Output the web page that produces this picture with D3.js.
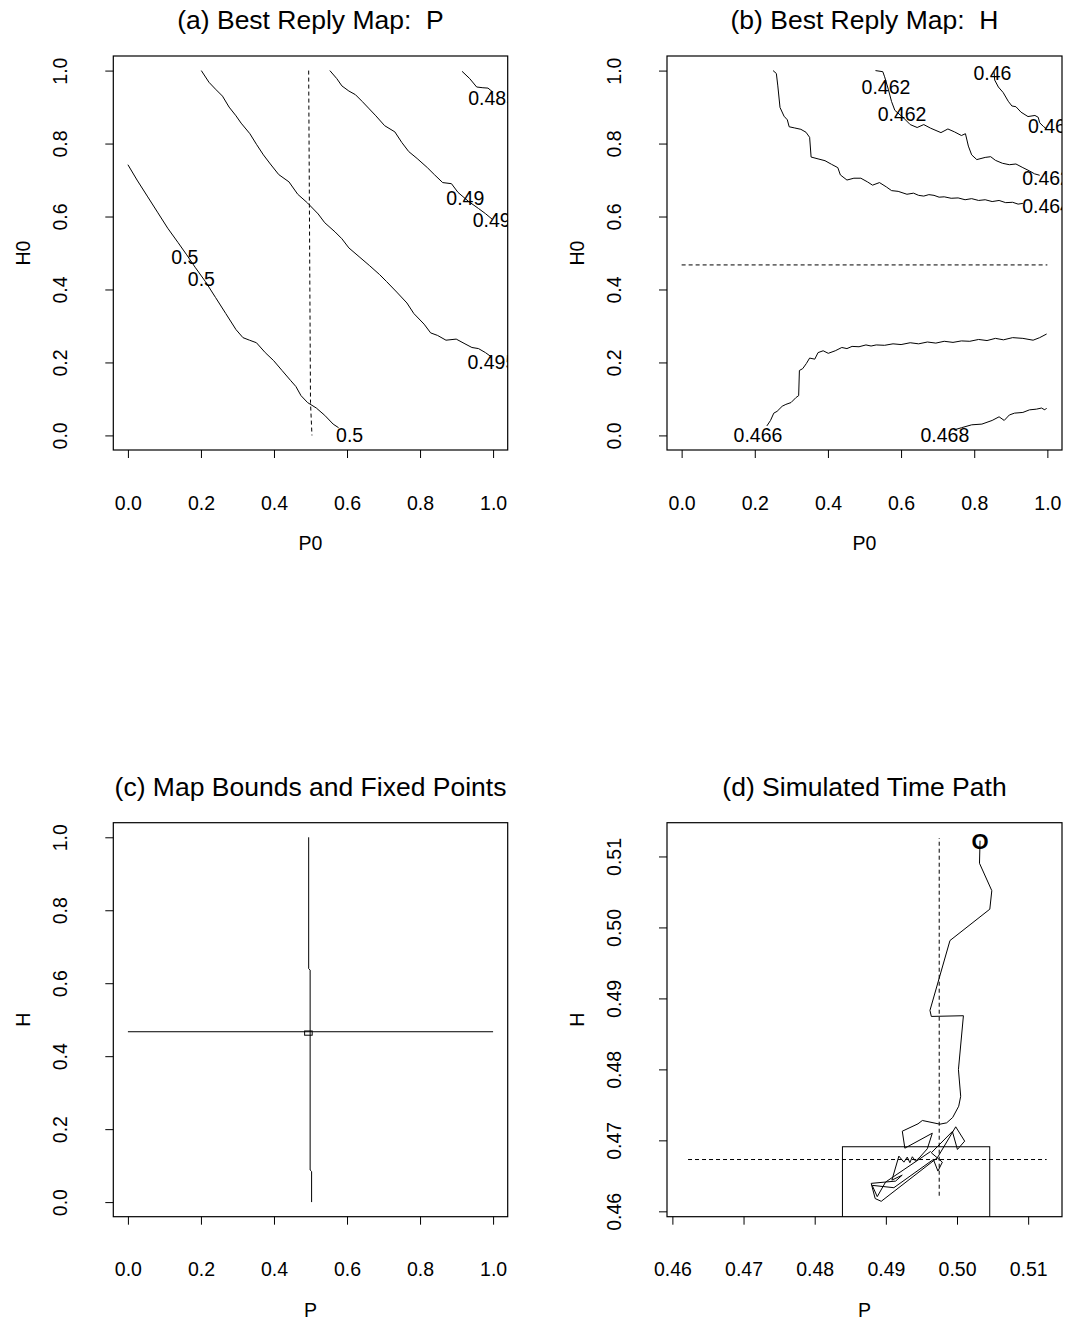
<!DOCTYPE html>
<html>
<head>
<meta charset="utf-8">
<script src="https://cdn.jsdelivr.net/npm/d3@7"></script>
<style>
  body { margin: 0; background: #fff; }
  svg { display: block; }
  text { font-family: "Liberation Sans", Arial, sans-serif; fill: #000; white-space: pre; }
</style>
</head>
<body>
<div id="chart"></div>
<script>
// ---- data ----
const unitTicks = [0, 0.2, 0.4, 0.6, 0.8, 1.0];
const pathTicks = [0.46, 0.47, 0.48, 0.49, 0.50, 0.51];
const pathLim = [0.4613, 0.5127];

// (a) best reply P: contour lines over (P0, H0)
const contourP1 = [[0,0.742],[0.025,0.700],[0.053,0.656],[0.081,0.612],[0.109,0.568],[0.137,0.529],[0.161,0.495],[0.184,0.461],[0.212,0.422],[0.240,0.378],[0.268,0.334],[0.296,0.290],[0.315,0.268],[0.333,0.261],[0.352,0.254],[0.376,0.227],[0.399,0.205],[0.422,0.178],[0.446,0.150],[0.460,0.134],[0.474,0.109],[0.492,0.090],[0.516,0.075],[0.539,0.055],[0.562,0.031],[0.577,0.021]];
const contourP2 = [[0.201,1.0],[0.222,0.968],[0.240,0.949],[0.259,0.930],[0.277,0.900],[0.296,0.876],[0.310,0.856],[0.334,0.827],[0.352,0.798],[0.371,0.769],[0.390,0.744],[0.413,0.715],[0.441,0.695],[0.465,0.661],[0.492,0.637],[0.521,0.607],[0.539,0.583],[0.567,0.558],[0.586,0.539],[0.605,0.514],[0.633,0.490],[0.661,0.466],[0.689,0.441],[0.708,0.422],[0.736,0.393],[0.764,0.363],[0.783,0.334],[0.811,0.305],[0.829,0.281],[0.848,0.274],[0.871,0.261],[0.899,0.264],[0.923,0.251],[0.942,0.241],[0.960,0.238],[0.979,0.227],[0.997,0.214]];
const contourP3 = [[0.553,1.0],[0.572,0.978],[0.586,0.958],[0.605,0.944],[0.623,0.934],[0.642,0.915],[0.661,0.895],[0.679,0.876],[0.703,0.849],[0.731,0.832],[0.750,0.803],[0.769,0.778],[0.792,0.759],[0.820,0.734],[0.839,0.715],[0.862,0.693],[0.886,0.690],[0.904,0.666],[0.932,0.642],[0.960,0.622],[0.979,0.608],[0.997,0.593]];
const contourP4 = [[0.915,0.998],[0.936,0.978],[0.955,0.955],[0.972,0.953],[0.986,0.952],[0.997,0.943]];
const fixedP0 = [[0.495,1.0],[0.497,0.63],[0.500,0.09],[0.504,0.0]];
const labelsP = [
  {text:"0.485", x:0.932, y:0.925}, {text:"0.49", x:0.872, y:0.650},
  {text:"0.49", x:0.944, y:0.590}, {text:"0.495", x:0.930, y:0.200},
  {text:"0.5", x:0.570, y:0.0}, {text:"0.5", x:0.119, y:0.489},
  {text:"0.5", x:0.164, y:0.429}
];

// (b) best reply H
const contourH1 = [[0.250,1.0],[0.259,0.992],[0.263,0.958],[0.269,0.899],[0.280,0.875],[0.289,0.865],[0.294,0.846],[0.308,0.843],[0.326,0.839],[0.340,0.831],[0.350,0.817],[0.354,0.763],[0.373,0.758],[0.392,0.753],[0.410,0.743],[0.427,0.734],[0.434,0.714],[0.452,0.700],[0.471,0.705],[0.490,0.705],[0.508,0.695],[0.522,0.686],[0.541,0.693],[0.560,0.681],[0.574,0.671],[0.592,0.669],[0.616,0.661],[0.634,0.664],[0.648,0.658],[0.662,0.656],[0.676,0.660],[0.690,0.658],[0.704,0.653],[0.718,0.654],[0.737,0.650],[0.756,0.651],[0.775,0.646],[0.793,0.649],[0.812,0.644],[0.830,0.646],[0.849,0.641],[0.868,0.644],[0.886,0.638],[0.905,0.639],[0.920,0.634],[0.933,0.636]];
const contourH2 = [[0.530,1.0],[0.550,0.997],[0.555,0.983],[0.565,0.949],[0.574,0.915],[0.583,0.891],[0.606,0.871],[0.625,0.852],[0.644,0.844],[0.662,0.852],[0.681,0.842],[0.709,0.830],[0.728,0.840],[0.746,0.832],[0.765,0.822],[0.776,0.827],[0.784,0.793],[0.793,0.769],[0.807,0.756],[0.830,0.762],[0.845,0.764],[0.858,0.754],[0.877,0.746],[0.896,0.742],[0.914,0.744],[0.933,0.734],[0.951,0.725],[0.965,0.717],[0.979,0.713]];
const contourH3 = [[0.854,0.998],[0.856,0.974],[0.866,0.955],[0.879,0.940],[0.893,0.916],[0.903,0.903],[0.914,0.901],[0.928,0.886],[0.947,0.874],[0.966,0.877],[0.975,0.872],[0.979,0.857],[0.989,0.847],[0.998,0.840]];
const contourH4 = [[0.233,0.026],[0.243,0.041],[0.252,0.061],[0.261,0.066],[0.275,0.080],[0.285,0.085],[0.299,0.090],[0.313,0.104],[0.320,0.109],[0.322,0.178],[0.331,0.183],[0.341,0.197],[0.350,0.212],[0.364,0.209],[0.373,0.227],[0.387,0.232],[0.401,0.225],[0.420,0.232],[0.438,0.241],[0.452,0.238],[0.466,0.244],[0.485,0.243],[0.504,0.248],[0.518,0.245],[0.532,0.248],[0.555,0.247],[0.578,0.251],[0.600,0.249],[0.625,0.254],[0.648,0.251],[0.672,0.256],[0.695,0.253],[0.718,0.258],[0.742,0.255],[0.765,0.259],[0.788,0.258],[0.812,0.263],[0.835,0.260],[0.858,0.266],[0.880,0.262],[0.905,0.268],[0.933,0.266],[0.961,0.261],[0.979,0.268],[0.998,0.278]];
const contourH5 = [[0.745,0.015],[0.765,0.021],[0.793,0.029],[0.821,0.031],[0.849,0.041],[0.868,0.051],[0.882,0.041],[0.896,0.056],[0.910,0.061],[0.933,0.063],[0.951,0.070],[0.970,0.072],[0.984,0.075],[0.993,0.070],[0.998,0.075]];
const fixedH0 = [[0, 0.4673], [1, 0.4673]];
const labelsH = [
  {text:"0.462", x:0.492, y:0.954}, {text:"0.462", x:0.536, y:0.881},
  {text:"0.46", x:0.798, y:0.993}, {text:"0.46", x:0.947, y:0.847},
  {text:"0.462", x:0.931, y:0.705}, {text:"0.464", x:0.931, y:0.627},
  {text:"0.466", x:0.142, y:0.002}, {text:"0.468", x:0.653, y:0.002}
];

// (c) map bounds and fixed points
const boundP = [[0.495,1.0],[0.495,0.640],[0.499,0.636],[0.499,0.088],[0.503,0.084],[0.503,0.0]];
const boundH = [[0,0.467],[1,0.467]];
const boundsRect = {x0:0.4839, x1:0.5046, y0:0.4575, y1:0.4691};

// (d) simulated time path
const fixedPoint = {p:0.4975, h:0.4673, from:0.4622, to:0.5126};
const timePath = [[0.50324,0.51222],[0.50316,0.50904],[0.50489,0.50518],[0.50461,0.50257],[0.49901,0.49815],[0.49620,0.48831],[0.49639,0.48746],[0.50090,0.48756],[0.50020,0.47997],[0.50052,0.47621],[0.50024,0.47481],[0.49939,0.47322],[0.49855,0.47247],[0.49760,0.47228],[0.49513,0.47280],[0.49452,0.47233],[0.49231,0.47129],[0.49267,0.46890],[0.49653,0.47101],[0.49583,0.46882],[0.49479,0.46764],[0.49418,0.46707],[0.49372,0.46769],[0.49338,0.46685],[0.49301,0.46764],[0.49254,0.46693],[0.49183,0.46778],[0.49085,0.46440],[0.49230,0.46510],[0.49137,0.46426],[0.48794,0.46394],[0.48850,0.46180],[0.48935,0.46141],[0.49724,0.46755],[0.49982,0.47191],[0.50108,0.46989],[0.50006,0.46872],[0.49935,0.47125],[0.49639,0.46825],[0.49794,0.46693],[0.49732,0.46567],[0.49668,0.46731],[0.49113,0.46333],[0.48808,0.46366],[0.48879,0.46207],[0.48996,0.46412],[0.49630,0.46844]];

// ---- layout ----
const width = 1069, height = 1321;
const tickFont = 19.5, titleFont = 26.5;
const rows = [{top: 56, bottom: 450}, {top: 822.7, bottom: 1216.7}];
const cols = [{left: 113.3, right: 507.7}, {left: 667, right: 1062}];

const svg = d3.select("#chart").append("svg")
    .attr("width", width)
    .attr("height", height);

// R style: axis range padded by 4% each side
function pad(lim) {
    const d = (lim[1] - lim[0]) * 0.04;
    return [lim[0] - d, lim[1] + d];
}

function makePanel(cfg) {
    const col = cols[cfg.col], row = rows[cfg.row];
    const x = d3.scaleLinear().domain(pad(cfg.lim)).range([col.left, col.right]);
    const y = d3.scaleLinear().domain(pad(cfg.lim)).range([row.bottom, row.top]);
    const fmt = d3.format(cfg.fmt);

    const clipId = "clip-" + cfg.id;
    svg.append("clipPath").attr("id", clipId)
        .append("rect")
        .attr("x", col.left).attr("y", row.top)
        .attr("width", col.right - col.left).attr("height", row.bottom - row.top);

    const xAxis = svg.append("g")
        .attr("transform", `translate(0,${row.bottom})`)
        .call(d3.axisBottom(x).tickValues(cfg.ticks).tickFormat(fmt).tickSize(8));
    xAxis.select(".domain").remove();
    xAxis.selectAll("text")
        .attr("y", 59.5).attr("dy", null)
        .attr("font-size", tickFont);

    const yAxis = svg.append("g")
        .attr("transform", `translate(${col.left},0)`)
        .call(d3.axisLeft(y).tickValues(cfg.ticks).tickFormat(fmt).tickSize(8));
    yAxis.select(".domain").remove();
    yAxis.selectAll("text")
        .attr("x", null).attr("dy", null)
        .attr("text-anchor", "middle")
        .attr("transform", "translate(-46,0) rotate(-90)")
        .attr("font-size", tickFont);
    [xAxis, yAxis].forEach(a => a.attr("font-family", null));

    svg.append("rect")
        .attr("x", col.left).attr("y", row.top)
        .attr("width", col.right - col.left).attr("height", row.bottom - row.top)
        .attr("fill", "none").attr("stroke", "#000").attr("stroke-width", 1.2);

    svg.append("text")
        .attr("x", (col.left + col.right) / 2).attr("y", row.top - 27)
        .attr("text-anchor", "middle").attr("font-size", titleFont)
        .text(cfg.title);

    svg.append("text")
        .attr("x", (col.left + col.right) / 2).attr("y", row.bottom + 100)
        .attr("text-anchor", "middle").attr("font-size", tickFont)
        .text(cfg.xlab);

    const ylx = col.left - 83.3, yly = (row.top + row.bottom) / 2;
    svg.append("text")
        .attr("transform", `translate(${ylx},${yly}) rotate(-90)`)
        .attr("text-anchor", "middle").attr("font-size", tickFont)
        .text(cfg.ylab);

    const g = svg.append("g").attr("clip-path", `url(#${clipId})`);
    const line = d3.line().x(d => x(d[0])).y(d => y(d[1]));
    return {g, x, y, line};
}

function drawLines(panel, lines, dash) {
    panel.g.selectAll(null)
        .data(lines)
        .enter()
        .append("path")
        .attr("d", panel.line)
        .attr("fill", "none")
        .attr("stroke", "#000")
        .attr("stroke-width", 1)
        .attr("stroke-dasharray", dash);
}

function drawLabels(panel, labels) {
    panel.g.selectAll(null)
        .data(labels)
        .enter()
        .append("text")
        .attr("x", d => panel.x(d.x))
        .attr("y", d => panel.y(d.y))
        .attr("dy", "0.35em")
        .attr("font-size", tickFont)
        .text(d => d.text);
}

// (a)
const pa = makePanel({id: "a", col: 0, row: 0, lim: [0, 1], ticks: unitTicks, fmt: ".1f",
    title: "(a) Best Reply Map:  P", xlab: "P0", ylab: "H0"});
drawLines(pa, [contourP1, contourP2, contourP3, contourP4], null);
drawLines(pa, [fixedP0], "4,3");
drawLabels(pa, labelsP);

// (b)
const pb = makePanel({id: "b", col: 1, row: 0, lim: [0, 1], ticks: unitTicks, fmt: ".1f",
    title: "(b) Best Reply Map:  H", xlab: "P0", ylab: "H0"});
drawLines(pb, [contourH1, contourH2, contourH3, contourH4, contourH5], null);
drawLines(pb, [fixedH0], "4,3");
drawLabels(pb, labelsH);

// (c)
const pc = makePanel({id: "c", col: 0, row: 1, lim: [0, 1], ticks: unitTicks, fmt: ".1f",
    title: "(c) Map Bounds and Fixed Points", xlab: "P", ylab: "H"});
drawLines(pc, [boundP, boundH], null);
pc.g.append("rect")
    .attr("x", pc.x(boundsRect.x0)).attr("y", pc.y(boundsRect.y1))
    .attr("width", pc.x(boundsRect.x1) - pc.x(boundsRect.x0))
    .attr("height", pc.y(boundsRect.y0) - pc.y(boundsRect.y1))
    .attr("fill", "none").attr("stroke", "#000").attr("stroke-width", 1);

// (d)
const pd = makePanel({id: "d", col: 1, row: 1, lim: pathLim, ticks: pathTicks, fmt: ".2f",
    title: "(d) Simulated Time Path", xlab: "P", ylab: "H"});
pd.g.append("rect")
    .attr("x", pd.x(boundsRect.x0)).attr("y", pd.y(boundsRect.y1))
    .attr("width", pd.x(boundsRect.x1) - pd.x(boundsRect.x0))
    .attr("height", pd.y(boundsRect.y0) - pd.y(boundsRect.y1))
    .attr("fill", "none").attr("stroke", "#000").attr("stroke-width", 1);
drawLines(pd, [
    [[fixedPoint.p, fixedPoint.from], [fixedPoint.p, fixedPoint.to]],
    [[fixedPoint.from, fixedPoint.h], [fixedPoint.to, fixedPoint.h]]
], "4,3");
drawLines(pd, [timePath], null);
pd.g.append("text")
    .attr("x", pd.x(timePath[0][0]))
    .attr("y", pd.y(timePath[0][1]))
    .attr("dy", "0.36em")
    .attr("text-anchor", "middle")
    .attr("font-size", 22)
    .attr("font-weight", "bold")
    .text("O");
</script>
</body>
</html>
